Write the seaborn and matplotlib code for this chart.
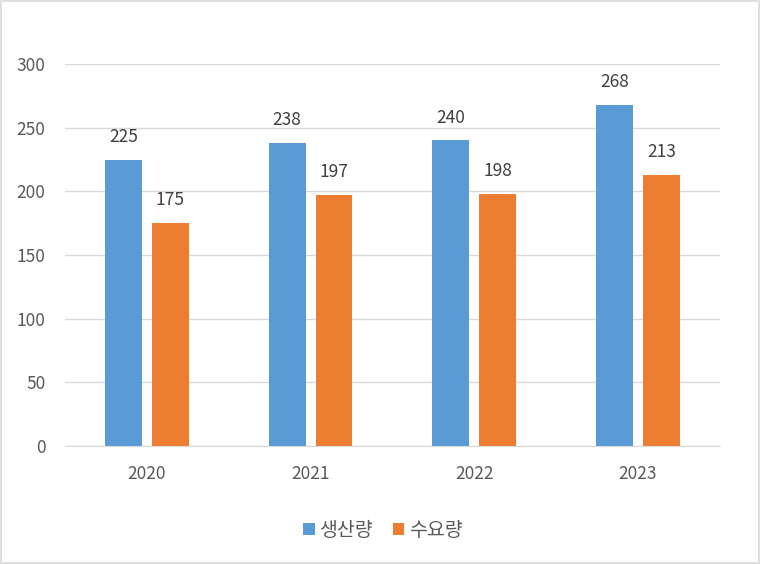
import matplotlib
matplotlib.use("Agg")
import matplotlib.pyplot as plt
import seaborn as sns
import pandas as pd

years = ["2020", "2021", "2022", "2023"]
production = [225, 238, 240, 268]
demand = [175, 197, 198, 213]
series_names = ["생산량", "수요량"]
colors = ["#5B9BD5", "#ED7D31"]

df = pd.DataFrame({
    "year": years * 2,
    "value": production + demand,
    "series": [series_names[0]] * 4 + [series_names[1]] * 4,
})

sns.set_style("white")
plt.rcParams['font.family'] = ['Noto Sans CJK KR', 'DejaVu Sans']
text_color = "#595959"

fig = plt.figure(figsize=(7.61, 5.64), dpi=100)
ax = fig.add_axes([0.0854, 0.2092, 0.8606, 0.6773])

sns.barplot(data=df, x="year", y="value", hue="series", palette=colors,
            width=0.573, gap=0.213, saturation=1, linewidth=0, ax=ax, legend=True)

for cont in ax.containers:
    ax.bar_label(cont, padding=10, fontsize=12.5, color="#404040")

ax.set_ylim(0, 300)
ax.set_yticks(range(0, 301, 50))
ax.set_xlim(-0.5, 3.5)
ax.yaxis.grid(True, color="#D9D9D9", linewidth=1)
ax.set_axisbelow(True)
ax.set_xlabel("")
ax.set_ylabel("")
for s in ["top", "right", "left"]:
    ax.spines[s].set_visible(False)
ax.spines["bottom"].set_color("#D9D9D9")
ax.tick_params(axis="both", length=0, labelsize=12.5, labelcolor=text_color)
ax.tick_params(axis="y", pad=14)
ax.tick_params(axis="x", pad=14)

handles, labels = ax.get_legend_handles_labels()
ax.legend(handles, labels, loc="center", bbox_to_anchor=(0.503, 0.0595),
          bbox_transform=fig.transFigure, ncol=2, frameon=False,
          fontsize=14, labelcolor=text_color, handlelength=0.6, handleheight=0.6,
          handletextpad=0.25, columnspacing=1.0)

fig.patches.append(plt.Rectangle((0.001, 0.001), 0.997, 0.997, transform=fig.transFigure,
                                 fill=False, edgecolor="#D9D9D9", linewidth=1.2))

fig.savefig("out.png", dpi=100)
